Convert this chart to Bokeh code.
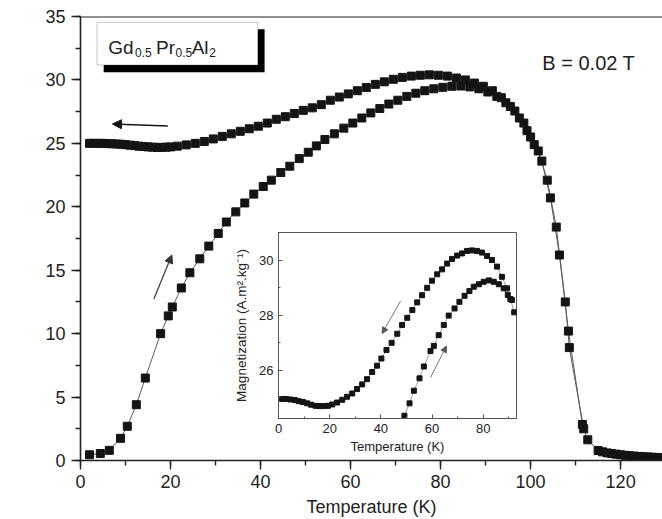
import math
from bokeh.plotting import figure
from bokeh.models import (Range1d, Span, Label, BoxAnnotation, Arrow, NormalHead,
                          SingleIntervalTicker)
from bokeh.embed import file_html
from bokeh.resources import INLINE

FONT = "Liberation Sans"

# ---------------- main data (warming curve) ----------------
heat_T = [2.0, 4.4, 6.4, 8.9, 10.4, 12.4, 14.4, 17.8, 19.5, 20.4, 22.4, 24.3, 26.5, 28.5,
          30.6, 32.4, 34.5, 36.5, 38.5, 40.6, 42.4, 44.5, 46.5, 48.6, 50.6, 52.4, 54.3,
          56.4, 58.5, 60.5, 62.5, 64.5, 66.5, 68.5, 70.5, 72.5, 74.5, 76.5, 78.5, 80.5,
          82.5, 84.5, 86.5, 88.5, 90.5, 92.5, 94.5, 96.5, 98.5, 100.0, 101.7, 103.7,
          105.7, 107.7, 108.6, 111.8]
heat_M = [0.45, 0.55, 0.8, 1.75, 2.7, 4.4, 6.5, 10.0, 11.4, 12.1, 13.6, 14.8, 15.9, 16.9,
          17.9, 18.8, 19.6, 20.3, 21.0, 21.6, 22.1, 22.7, 23.2, 23.8, 24.3, 24.8, 25.3,
          25.75, 26.2, 26.6, 27.0, 27.4, 27.75, 28.1, 28.4, 28.7, 28.95, 29.15, 29.3, 29.42,
          29.5, 29.52, 29.45, 29.3, 29.05, 28.7, 28.2, 27.55, 26.6, 25.5, 24.4, 22.1,
          18.4, 12.5, 8.9, 2.5]

# ---------------- main data (cooling curve) ----------------
cool_T = [130, 129, 128, 127, 126, 125, 124, 123, 122, 121, 120, 119, 118, 117, 116, 115,
          112.7, 111.5, 108.4, 106.4, 104.4, 102.5, 100.8, 99.2, 97.5, 95.5, 93.5, 91.5,
          89.5, 87.5, 85.5, 83.5, 81.5, 79.5, 77.5, 75.5, 73.5, 71.5, 69.5, 67.5, 65.5,
          63.5, 61.5, 59.5, 57.5, 55.5, 53.5, 51.5, 49.5, 47.5, 45.5, 43.5, 41.5, 39.5,
          37.5, 35.5, 33.5, 31.5, 29.5, 27.5, 25.5, 23.5, 21.5, 20, 19, 18, 17, 16, 15,
          14, 13, 12, 11, 10, 9, 8, 7, 6, 5, 4, 3, 2]
cool_M = [0.2, 0.22, 0.24, 0.26, 0.28, 0.3, 0.32, 0.35, 0.38, 0.41, 0.45, 0.5, 0.55, 0.6,
          0.68, 0.79, 1.63, 2.84, 10.2, 16.2, 20.7, 23.6, 24.9, 26.0, 27.0, 27.9, 28.6,
          29.15, 29.5, 29.75, 30.0, 30.15, 30.3, 30.37, 30.4, 30.37, 30.3, 30.2, 30.05,
          29.85, 29.65, 29.4, 29.15, 28.9, 28.65, 28.4, 28.05, 27.8, 27.6, 27.35, 27.1,
          26.9, 26.6, 26.35, 26.15, 25.95, 25.75, 25.55, 25.35, 25.15, 25.0, 24.88, 24.78,
          24.72, 24.7, 24.68, 24.68, 24.7, 24.72, 24.75, 24.78, 24.82, 24.86, 24.9, 24.93,
          24.95, 24.97, 24.98, 25.0, 25.0, 25.0, 25.0]

# ---------------- inset data ----------------
in_cool_T = [1.4, 3.0, 4.7, 6.4, 7.9, 9.5, 11.2, 12.8, 14.5, 16.0, 17.7, 19.3, 21.0, 22.9,
             24.9, 26.8, 28.8, 30.7, 32.7, 34.6, 36.6, 38.5, 40.2, 42.2, 44.2, 46.4, 48.3,
             50.3, 52.3, 54.2, 56.1, 58.1, 60.0, 62.0, 63.9, 65.9, 67.8, 69.8, 71.7, 73.7,
             75.6, 77.6, 79.5, 81.5, 83.4, 85.4, 87.3, 89.3, 90.6, 92.1]
in_cool_M = [24.95, 24.95, 24.93, 24.91, 24.87, 24.84, 24.79, 24.74, 24.70, 24.69, 24.69,
             24.70, 24.75, 24.82, 24.92, 25.03, 25.15, 25.31, 25.48, 25.67, 25.93, 26.16,
             26.42, 26.73, 26.99, 27.32, 27.64, 27.90, 28.18, 28.46, 28.72, 28.99, 29.25,
             29.48, 29.66, 29.87, 30.04, 30.16, 30.24, 30.33, 30.35, 30.33, 30.27, 30.15,
             30.00, 29.76, 29.39, 28.97, 28.58, 28.10]
in_heat_T = [49.2, 51.2, 52.9, 55.1, 56.8, 59.4, 60.7, 62.6, 64.6, 66.5, 68.8, 70.7, 72.7,
             74.6, 76.3, 78.3, 80.2, 82.2, 84.1, 86.1, 88.0, 89.6, 91.2]
in_heat_M = [24.34, 24.79, 25.25, 25.70, 26.13, 26.69, 26.88, 27.27, 27.64, 27.98, 28.24,
             28.48, 28.70, 28.87, 29.03, 29.12, 29.21, 29.26, 29.21, 29.12, 28.97, 28.73,
             28.55]

MARK = "#141414"
LINE = "#5a5a5a"
AXC = "#222222"

# ================= main figure =================
p = figure(width=654, height=511, x_range=Range1d(0, 129.3), y_range=Range1d(0, 35),
           toolbar_location=None, output_backend="svg",
           min_border_left=72, min_border_right=0, min_border_top=8, min_border_bottom=50)
p.grid.visible = False
p.outline_line_color = None
p.background_fill_color = "white"
p.xaxis.ticker = SingleIntervalTicker(interval=20, num_minor_ticks=2)
p.yaxis.ticker = SingleIntervalTicker(interval=5, num_minor_ticks=2)
for ax in p.axis:
    ax.axis_line_color = AXC
    ax.axis_line_width = 1.6
    ax.major_tick_line_color = AXC
    ax.minor_tick_line_color = AXC
    ax.major_tick_line_width = 1.4
    ax.minor_tick_line_width = 1.4
    ax.major_tick_out = 9
    ax.major_tick_in = 0
    ax.minor_tick_out = 5
    ax.minor_tick_in = 0
    ax.major_label_text_font = FONT
    ax.major_label_text_font_size = "18px"
    ax.major_label_text_color = "#222"
p.xaxis.major_label_standoff = 5
p.yaxis.major_label_standoff = 6
p.xaxis.axis_label = "Temperature (K)"
p.xaxis.axis_label_text_font = FONT
p.xaxis.axis_label_text_font_size = "18px"
p.xaxis.axis_label_text_font_style = "normal"
p.xaxis.axis_label_text_color = "#222"
p.xaxis.axis_label_standoff = 6

p.add_layout(Span(location=35, dimension="width", line_color=AXC, line_width=2))

p.line(heat_T, heat_M, line_color=LINE, line_width=1)
p.line(cool_T, cool_M, line_color=LINE, line_width=1)
p.scatter(heat_T, heat_M, marker="square", size=8, fill_color=MARK, line_color=MARK)
p.scatter(cool_T, cool_M, marker="square", size=8, fill_color=MARK, line_color=MARK)

# y title
p.add_layout(Label(x=-12.1, y=15.8, text="Magnetization (A.m\u00b2.kg\u207b\u00b9)",
                   angle=math.pi / 2, text_align="center", text_baseline="middle",
                   text_font=FONT, text_font_size="18px", text_color="#222"))

# sample name box with shadow
p.add_layout(BoxAnnotation(left=5.15, right=40.9, bottom=30.6, top=34.0,
                           fill_color="black", fill_alpha=1, line_color=None))
p.add_layout(BoxAnnotation(left=3.67, right=39.4, bottom=31.18, top=34.54,
                           fill_color="white", fill_alpha=1, line_color="#444", line_width=1))
for txt, x, y, sz in [("Gd", 6.18, 32.52, "19px"), ("0.5", 12.1, 32.17, "12px"),
                      ("Pr", 16.8, 32.52, "19px"), ("0.5", 21.1, 32.17, "12px"),
                      ("Al", 24.7, 32.52, "19px"), ("2", 28.6, 32.17, "12px")]:
    p.add_layout(Label(x=x, y=y, text=txt, text_font=FONT, text_font_size=sz,
                       text_baseline="alphabetic", text_color="#222"))
p.add_layout(Label(x=102.6, y=31.35, text="B = 0.02 T", text_font=FONT,
                   text_font_size="20px", text_baseline="alphabetic", text_color="#222"))

# arrows
p.add_layout(Arrow(end=NormalHead(size=9, fill_color=MARK, line_color=MARK),
                   x_start=19.4, y_start=26.37, x_end=7.1, y_end=26.53,
                   line_color=MARK, line_width=1.5))
p.add_layout(Arrow(end=NormalHead(size=8, fill_color="#333", line_color="#333"),
                   x_start=16.3, y_start=12.74, x_end=20.3, y_end=16.2,
                   line_color="#444", line_width=1.3))

# ================= inset figure =================
q = figure(width=290, height=228, x_range=Range1d(0, 93), y_range=Range1d(24.24, 31.0),
           toolbar_location=None, output_backend="svg",
           min_border_left=48, min_border_right=4, min_border_top=4, min_border_bottom=38)
q.grid.visible = False
q.outline_line_color = "#555"
q.outline_line_width = 1
q.background_fill_color = "white"
q.border_fill_alpha = 0
q.xaxis.ticker = SingleIntervalTicker(interval=20, num_minor_ticks=2)
q.yaxis.ticker = SingleIntervalTicker(interval=2, num_minor_ticks=2)
for ax in q.axis:
    ax.axis_line_color = "#555"
    ax.major_tick_line_color = "#555"
    ax.minor_tick_line_color = "#555"
    ax.major_tick_in = 4
    ax.major_tick_out = 0
    ax.minor_tick_in = 2
    ax.minor_tick_out = 0
    ax.major_label_text_font = FONT
    ax.major_label_text_font_size = "13px"
    ax.major_label_text_color = "#222"
    ax.major_label_standoff = 5
    ax.axis_label_text_font = FONT
    ax.axis_label_text_font_style = "normal"
    ax.axis_label_text_color = "#222"
q.xaxis.axis_label = "Temperature (K)"
q.xaxis.axis_label_text_font_size = "13px"
q.xaxis.axis_label_standoff = 3
q.yaxis.axis_label = "Magnetization (A.m\u00b2.kg\u207b\u00b9)"
q.yaxis.axis_label_text_font_size = "13.5px"
q.yaxis.axis_label_standoff = 7

q.line(in_cool_T, in_cool_M, line_color="#888", line_width=0.8)
q.line(in_heat_T, in_heat_M, line_color="#888", line_width=0.8)
q.scatter(in_cool_T, in_cool_M, marker="square", size=5, fill_color=MARK, line_color=MARK)
q.scatter(in_heat_T, in_heat_M, marker="square", size=5, fill_color=MARK, line_color=MARK)
q.add_layout(Arrow(end=NormalHead(size=6, fill_color="#555", line_color="#555"),
                   x_start=47.7, y_start=28.51, x_end=40.5, y_end=27.33,
                   line_color="#777", line_width=1))
q.add_layout(Arrow(end=NormalHead(size=6, fill_color="#555", line_color="#555"),
                   x_start=59.4, y_start=25.73, x_end=65.6, y_end=26.87,
                   line_color="#777", line_width=1))

# place both figures at fixed page positions (inset drawn over the main plot)
p.styles = {"position": "absolute", "left": "8px", "top": "8px"}
q.styles = {"position": "absolute", "left": "230px", "top": "228px", "z-index": "5"}

open("out.html", "w").write(file_html([p, q], INLINE))
